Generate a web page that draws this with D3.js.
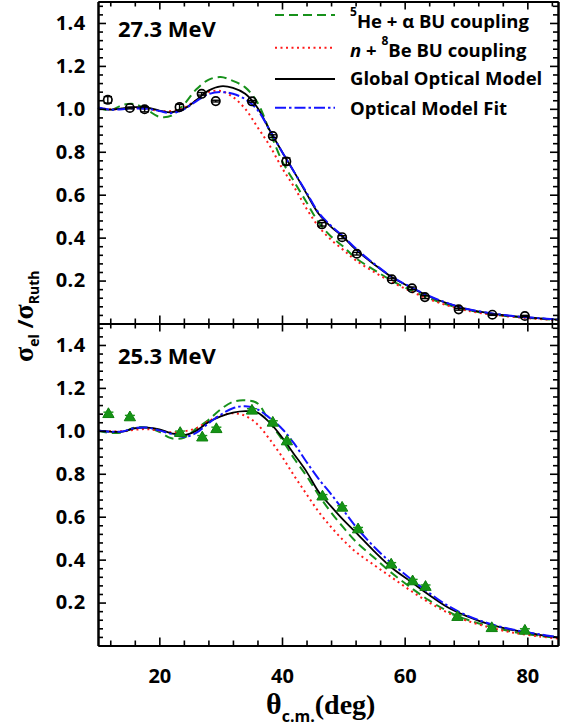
<!DOCTYPE html>
<html><head><meta charset="utf-8">
<script src="https://cdn.jsdelivr.net/npm/d3@7"></script>
<style>body{margin:0;background:#fff} svg{display:block}</style>
</head><body><svg id="chart" width="573" height="728"></svg>
<script>
// ---------- data ----------
const curveAngles = [10,12,14,16,18,20,22,24,26,28,30,32,34,36,38,40,42,44,46,48,50,52,55,58,61,64,67,70,74,78,82,85];

// 27.3 MeV panel
const topGreen = [1.006,0.993,1.018,1.022,0.995,0.963,0.968,1.02,1.09,1.135,1.148,1.13,1.1,1.03,0.895,0.758,0.66,0.565,0.47,0.405,0.358,0.305,0.25,0.198,0.155,0.117,0.087,0.064,0.044,0.031,0.022,0.017];
const topRed   = [1.004,0.998,1.0,1.005,1.0,0.99,0.99,1.005,1.04,1.078,1.083,1.055,1.0,0.915,0.828,0.725,0.635,0.535,0.45,0.39,0.343,0.295,0.24,0.192,0.15,0.113,0.084,0.061,0.042,0.03,0.021,0.016];
const topBlack = [1.006,0.996,1.002,1.008,1.006,0.992,0.984,1.0,1.04,1.085,1.105,1.098,1.07,1.005,0.9,0.8,0.705,0.605,0.51,0.45,0.403,0.345,0.276,0.214,0.168,0.126,0.094,0.068,0.047,0.033,0.024,0.018];
const topBlue  = [1.006,0.996,0.998,1.002,1.0,0.99,0.98,0.998,1.035,1.068,1.078,1.07,1.045,0.995,0.9,0.8,0.705,0.61,0.515,0.455,0.405,0.35,0.279,0.216,0.17,0.128,0.095,0.069,0.048,0.034,0.025,0.019];
const topAngles = [11.6,15.2,17.6,23.3,26.9,29.2,35.1,38.5,40.7,46.5,49.8,52.2,57.9,61.2,63.3,68.8,74.3,79.6];
const topValues = [1.042,1.004,0.998,1.008,1.07,1.036,1.035,0.873,0.755,0.462,0.402,0.325,0.206,0.164,0.123,0.066,0.041,0.035];
const topErrors = [0.015,0.004,0.012,0.013,0.006,0.004,0.004,0.006,0.016,0.008,0.007,0.006,0.005,0.006,0.007,0.004,0.003,0.003];

// 25.3 MeV panel
const botGreen = [1.0,0.99,0.993,1.015,1.015,0.995,0.965,0.968,1.01,1.05,1.1,1.135,1.142,1.128,1.04,0.96,0.87,0.79,0.7,0.62,0.55,0.485,0.41,0.335,0.27,0.21,0.16,0.122,0.088,0.062,0.045,0.035];
const botRed   = [1.0,0.998,0.998,1.005,1.008,1.0,0.993,0.998,1.012,1.045,1.07,1.082,1.07,1.03,0.96,0.88,0.79,0.705,0.622,0.552,0.49,0.437,0.375,0.315,0.255,0.2,0.153,0.117,0.083,0.058,0.042,0.032];
const botBlack = [1.002,0.996,0.996,1.012,1.015,1.007,0.988,0.98,1.0,1.04,1.067,1.085,1.092,1.085,1.038,0.97,0.89,0.81,0.715,0.648,0.585,0.528,0.44,0.36,0.298,0.235,0.178,0.138,0.097,0.07,0.05,0.038];
const botBlue  = [1.0,0.996,0.997,1.013,1.015,1.002,0.985,0.972,0.99,1.035,1.075,1.105,1.115,1.1,1.06,1.01,0.94,0.855,0.775,0.705,0.63,0.555,0.46,0.38,0.31,0.245,0.186,0.142,0.1,0.072,0.052,0.039];
const botAngles = [11.7,15.2,23.4,27.0,29.3,35.1,38.5,40.8,46.6,49.8,52.4,57.8,61.3,63.4,68.6,74.2,79.6];
const botValues = [1.077,1.062,0.989,0.968,1.007,1.093,1.037,0.95,0.693,0.641,0.54,0.376,0.298,0.272,0.132,0.08,0.068];
const botErrors = [0.01,0.01,0.01,0.01,0.01,0.01,0.01,0.01,0.01,0.01,0.01,0.01,0.01,0.01,0.01,0.01,0.01];

const panelLabels = ["27.3 MeV","25.3 MeV"];
const xMajorTicks = [20,40,60,80];
const xMinorTicks = [12,16,24,28,32,36,44,48,52,56,64,68,72,76,84];
const yMajorTicks = [0.2,0.4,0.6,0.8,1.0,1.2,1.4];
const yMinorTicks = [0.04,0.08,0.12,0.16,0.24,0.28,0.32,0.36,0.44,0.48,0.52,0.56,0.64,0.68,0.72,0.76,0.84,0.88,0.92,0.96,1.04,1.08,1.12,1.16,1.24,1.28,1.32,1.36,1.44,1.48];
const legendNames = ["He + α BU coupling","n + Be BU coupling","Global Optical Model","Optical Model Fit"];

// ---------- style ----------
const C = {green:"#17911b", red:"#ff1a1a", black:"#000", blue:"#1414ff", tri:"#169416"};
const styles = [
  {color:C.green, dash:"9,5", w:2},
  {color:C.red, dash:"2,3.5", w:2},
  {color:C.black, dash:null, w:1.8},
  {color:C.blue, dash:"11,3,2.5,3", w:2}
];
const TICKFONT = "'Open Sans', sans-serif";

const svg = d3.select("#chart");
const L = 98, R = 558;
const x = d3.scaleLinear().domain([10,85]).range([L,R]);

const panels = [
  {top:1.5, bottom:323.5, curves:[topGreen,topRed,topBlack,topBlue], ang:topAngles, val:topValues, err:topErrors, kind:"circle", label:panelLabels[0], labelY:36.7},
  {top:323.5, bottom:645.5, curves:[botGreen,botRed,botBlack,botBlue], ang:botAngles, val:botValues, err:botErrors, kind:"tri", label:panelLabels[1], labelY:364}
];

panels.forEach((p, pi) => {
  const y = d3.scaleLinear().domain([0,1.5]).range([p.bottom, p.top]);
  const g = svg.append("g");

  const line = d3.line().x((d,i)=>x(curveAngles[i])).y(d=>y(d)).curve(d3.curveCatmullRom.alpha(0.5));
  [0,1,2,3].forEach(k => {
    g.append("path").datum(p.curves[k]).attr("d", line)
      .attr("fill","none").attr("stroke", styles[k].color)
      .attr("stroke-width", styles[k].w)
      .attr("stroke-dasharray", styles[k].dash);
  });

  const pts = p.ang.map((a,i)=>({a, v:p.val[i], e:p.err[i]}));
  const col = p.kind==="circle" ? "#000" : C.tri;
  const pg = g.append("g");
  pts.forEach(d => {
    const cx = x(d.a), cy = y(d.v), y1 = y(d.v - d.e), y2 = y(d.v + d.e);
    const cap = p.kind==="circle" ? 4.2 : 5;
    if (p.kind === "tri") {
      pg.append("path").attr("d", d3.symbol(d3.symbolTriangle).size(55)())
        .attr("transform", `translate(${cx},${cy})`)
        .attr("fill", C.tri).attr("stroke", "#0c7d0c").attr("stroke-width", 1);
    } else {
      pg.append("circle").attr("cx",cx).attr("cy",cy).attr("r",4.2)
        .attr("fill","none").attr("stroke","#000").attr("stroke-width",1.7);
    }
    pg.append("line").attr("x1",cx).attr("x2",cx).attr("y1",y1).attr("y2",y2).attr("stroke",col).attr("stroke-width",1.4);
    [y1,y2].forEach(yy => pg.append("line").attr("x1",cx-cap).attr("x2",cx+cap).attr("y1",yy).attr("y2",yy).attr("stroke",col).attr("stroke-width",1.4));
  });

  const styleAxis = sel => {
    sel.selectAll("path.domain").attr("stroke","#000").attr("stroke-width",2);
    sel.selectAll(".tick line").attr("stroke","#000").attr("stroke-width",1.6);
  };
  const showLabels = pi === 1;
  const bMaj = g.append("g").attr("transform",`translate(0,${p.bottom})`)
    .call(d3.axisBottom(x).tickValues(xMajorTicks).tickSize(-8).tickSizeOuter(0).tickPadding(23.6).tickFormat(showLabels? d3.format("d") : ()=>""));
  bMaj.call(styleAxis);
  bMaj.selectAll("text").attr("font-family",TICKFONT).attr("font-weight",700).attr("font-size",20).attr("fill","#000");
  g.append("g").attr("transform",`translate(0,${p.bottom})`)
    .call(d3.axisBottom(x).tickValues(xMinorTicks).tickSize(-5).tickSizeOuter(0).tickFormat(()=>"")).call(styleAxis);
  g.append("g").attr("transform",`translate(0,${p.top})`)
    .call(d3.axisTop(x).tickValues(xMajorTicks).tickSize(-8).tickSizeOuter(0).tickFormat(()=>"")).call(styleAxis);
  g.append("g").attr("transform",`translate(0,${p.top})`)
    .call(d3.axisTop(x).tickValues(xMinorTicks).tickSize(-5).tickSizeOuter(0).tickFormat(()=>"")).call(styleAxis);
  const lMaj = g.append("g").attr("transform",`translate(${L},0)`)
    .call(d3.axisLeft(y).tickValues(yMajorTicks).tickSize(-8).tickSizeOuter(0).tickPadding(12.3).tickFormat(d3.format(".1f")));
  lMaj.call(styleAxis);
  lMaj.selectAll("text").attr("font-family",TICKFONT).attr("font-weight",700).attr("font-size",20).attr("fill","#000").attr("letter-spacing","0.5");
  g.append("g").attr("transform",`translate(${L},0)`)
    .call(d3.axisLeft(y).tickValues(yMinorTicks).tickSize(-5).tickSizeOuter(0).tickFormat(()=>"")).call(styleAxis);
  g.append("g").attr("transform",`translate(${R},0)`)
    .call(d3.axisRight(y).tickValues(yMajorTicks).tickSize(-8).tickSizeOuter(0).tickFormat(()=>"")).call(styleAxis);
  g.append("g").attr("transform",`translate(${R},0)`)
    .call(d3.axisRight(y).tickValues(yMinorTicks).tickSize(-5).tickSizeOuter(0).tickFormat(()=>"")).call(styleAxis);

  g.append("text").attr("x",118).attr("y",p.labelY).text(p.label)
    .attr("font-family",TICKFONT).attr("font-weight",700).attr("font-size",22).attr("fill","#000");
});

// ---------- legend ----------
const lineY = [15, 47.7, 79, 107.7];
const textY = [28.3, 57, 85, 115];
const lg = svg.append("g");
styles.forEach((s,i) => {
  lg.append("line").attr("x1",275).attr("x2",335).attr("y1",lineY[i]).attr("y2",lineY[i])
    .attr("stroke",s.color).attr("stroke-width",s.w).attr("stroke-dasharray",s.dash);
});
function legText(i){
  return lg.append("text").attr("x",350).attr("y",textY[i])
    .attr("font-family",TICKFONT).attr("font-weight",700).attr("font-size",18.5).attr("fill","#000");
}
{
  const t = legText(0);
  t.append("tspan").attr("font-size",12).attr("dy",-12).text("5");
  t.append("tspan").attr("dy",12).text(legendNames[0].slice(0,2));
  t.append("tspan").text(legendNames[0].slice(2));
}
{
  const t = legText(1);
  t.append("tspan").attr("font-style","italic").text(legendNames[1].slice(0,1));
  t.append("tspan").text(" + ");
  t.append("tspan").attr("font-size",12).attr("dy",-12).text("8");
  t.append("tspan").attr("dy",12).text(legendNames[1].slice(4));
}
legText(2).text(legendNames[2]);
legText(3).text(legendNames[3]);

// ---------- axis titles ----------
const xt = svg.append("text").attr("x",266).attr("y",714).attr("fill","#000");
xt.append("tspan").attr("font-family","'Liberation Serif', serif").attr("font-weight",700).attr("font-size",30).text("θ");
xt.append("tspan").attr("font-family",TICKFONT).attr("font-weight",700).attr("font-size",16).attr("dy",8).text("c.m.");
xt.append("tspan").attr("font-family","'Liberation Serif', serif").attr("font-weight",700).attr("font-size",28).attr("dy",-8).text("(deg)");

const yt = svg.append("text").attr("transform","translate(33,362) rotate(-90)").attr("fill","#000");
yt.append("tspan").attr("font-family","'Liberation Serif', serif").attr("font-weight",700).attr("font-size",28).text("σ");
yt.append("tspan").attr("font-family",TICKFONT).attr("font-weight",700).attr("font-size",14).attr("dy",6).text("el");
yt.append("tspan").attr("font-family",TICKFONT).attr("font-weight",700).attr("font-size",22).attr("dy",-6).text(" /");
yt.append("tspan").attr("font-family","'Liberation Serif', serif").attr("font-weight",700).attr("font-size",28).text("σ");
yt.append("tspan").attr("font-family",TICKFONT).attr("font-weight",700).attr("font-size",14).attr("dy",6).text("Ruth");
</script></body></html>
